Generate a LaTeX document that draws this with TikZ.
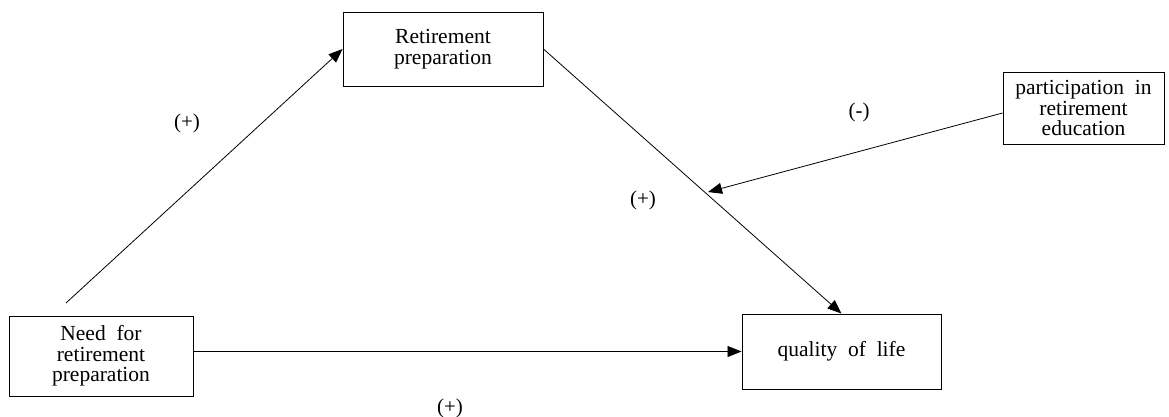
\documentclass[tikz,border=0pt]{standalone}
\usepackage{fontspec}
\setmainfont{Liberation Serif}
\usetikzlibrary{arrows.meta}
\begin{document}
\begin{tikzpicture}[x=1pt,y=-1pt,
  box/.style={draw,line width=0.9pt,align=center,inner sep=0pt,font=\fontsize{21.5}{20.5}\selectfont},
  conn/.style={line width=0.8pt,-{Triangle[length=14pt,width=11pt]}},
  lbl/.style={font=\fontsize{21}{21}\selectfont,inner sep=0pt}]
\useasboundingbox (0,0) rectangle (1169,417);
\node[box,minimum width=184pt,minimum height=80pt] (need) at (101,356) {Need\ \ for\\retirement\\preparation};
\node[box,minimum width=200pt,minimum height=74pt] (ret) at (443,49) {Retirement\\preparation};
\node[box,minimum width=199pt,minimum height=75pt] (qol) at (841.5,351.5) {quality\ \ of\ \ life};
\node[box,minimum width=161pt,minimum height=72pt] (part) at (1083.5,108) {participation\ \ in\\retirement\\education};
\coordinate (s1) at (66,303);
\coordinate (t4) at (708,192);
\draw[conn] (s1) -- (ret.west);
\draw[conn] (ret.east) -- (qol.north);
\draw[conn] (need.east |- qol.west) -- (qol.west);
\draw[conn] ([yshift=-5pt]part.west) -- (t4);
\node[lbl] (l1) at (187,123) {(+)};
\node[lbl] (l2) at (859,112) {(-)};
\node[lbl] (l3) at (643,200) {(+)};
\node[lbl] (l4) at (450,408) {(+)};
\end{tikzpicture}
\end{document}
